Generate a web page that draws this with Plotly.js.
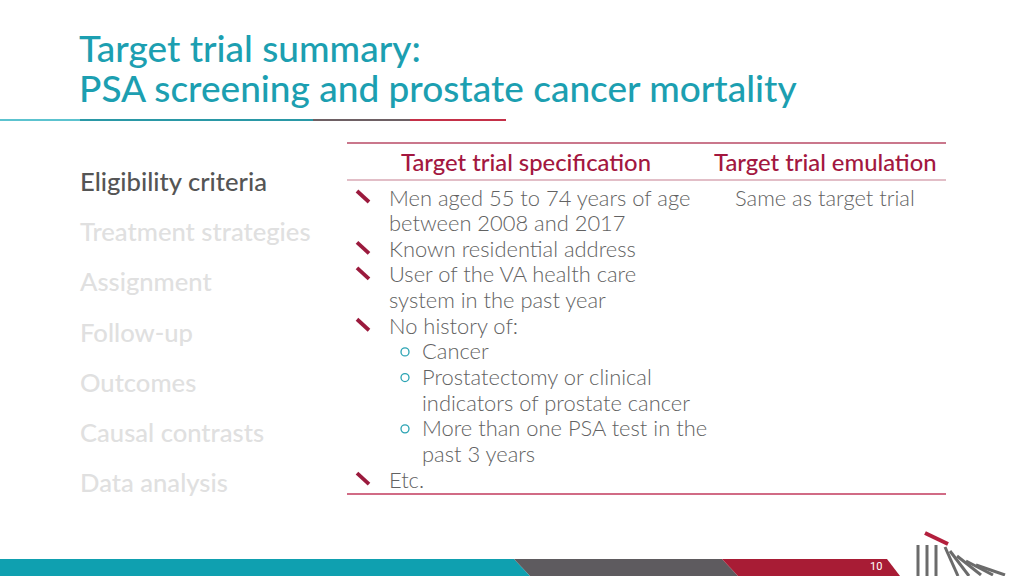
<!DOCTYPE html>
<html>
<head>
<meta charset="utf-8">
<script src="https://cdn.plot.ly/plotly-3.0.1.min.js"></script>
<style>html,body{margin:0;padding:0;background:#fff;}#chart{width:1024px;height:576px;}</style>
</head>
<body>
<div id="chart"></div>
<script>
// ---- content ----
const titleLines = ["Target trial summary:", "PSA screening and prostate cancer mortality"];
const menuItems = ["Eligibility criteria", "Treatment strategies", "Assignment", "Follow-up", "Outcomes", "Causal contrasts", "Data analysis"];
const activeMenu = 0;
const columnHeaders = ["Target trial specification", "Target trial emulation"];
const specText = [
  "Men aged 55 to 74 years of age",
  "between 2008 and 2017",
  "Known residential address",
  "User of the VA health care",
  "system in the past year",
  "No history of:",
  "Cancer",
  "Prostatectomy or clinical",
  "indicators of prostate cancer",
  "More than one PSA test in the",
  "past 3 years",
  "Etc."
];
const specKind = ["bullet","cont","bullet","bullet","cont","bullet","sub","sub","subcont","sub","subcont","bullet"];
const emulationText = ["Same as target trial"];
const pageNumber = "10";

// ---- style ----
const TEAL = "#1c9fb1", CRIMSON = "#a3173f", BODY = "#626262";
const FONT = "Lato, 'Open Sans', sans-serif";

const shapes = [], annotations = [];
function ann(text, x, y, font, opts) {
  annotations.push(Object.assign({
    text: text, x: x, y: y, xref: "x", yref: "y", showarrow: false,
    xanchor: "left", yanchor: "middle", font: Object.assign({family: FONT}, font)
  }, opts || {}));
}
function line(x0, y0, x1, y1, color, w) {
  shapes.push({type: "line", xref: "x", yref: "y", x0: x0, y0: y0, x1: x1, y1: y1,
    line: {color: color, width: w}});
}
function poly(pts, color) {
  shapes.push({type: "path", xref: "x", yref: "y",
    path: "M" + pts.map(p => p.join(",")).join("L") + "Z",
    fillcolor: color, line: {width: 0}});
}

// title
titleLines.forEach((t, i) => ann(t, 77, 47 + i * 40.5, {size: 37, color: TEAL, weight: 500}));
// title underline
line(0, 120, 80, 120, "#5cc3cf", 2);
line(80, 120, 313, 120, "#2a98a6", 2);
line(313, 120, 410, 120, "#6e6064", 2);
line(410, 120, 506, 120, "#c43048", 2);

// left menu
menuItems.forEach((m, i) => ann(m, 78, 181 + i * 50.2,
  {size: 25.6, color: i === activeMenu ? "#555555" : "#e0e0e0", weight: 500}));

// table rules
line(347, 143, 946, 143, "#b84a66", 1.3);
line(347, 180, 946, 180, "#d9a9b5", 1.3);
line(347, 494, 946, 494, "#c23a5c", 1.5);

// headers
const headerCenters = [526, 825];
columnHeaders.forEach((h, i) => ann(h, headerCenters[i], 161.5,
  {size: 23.8, color: CRIMSON, weight: 500}, {xanchor: "center"}));

// spec rows
const rowTop = 197, rowStep = 25.65;
specText.forEach((t, i) => {
  const y = rowTop + i * rowStep;
  const k = specKind[i];
  const x = (k === "sub" || k === "subcont") ? 420 : 387;
  ann(t, x, y, {size: 21.9, color: BODY, weight: 300});
  if (k === "bullet") line(357, y - 6, 369, y + 5, "#9b1a3d", 3.8);
  if (k === "sub") shapes.push({type: "circle", xref: "x", yref: "y", x0: 401, x1: 409, y0: y - 3, y1: y + 5,
    line: {color: "#2aa3b3", width: 1.3}, fillcolor: "rgba(0,0,0,0)"});
});
emulationText.forEach((t, i) => ann(t, 825, rowTop + i * rowStep,
  {size: 21.9, color: BODY, weight: 300}, {xanchor: "center"}));

// bottom band
poly([[0,559],[514,559],[530,576],[0,576]], "#0fa0b0");
poly([[514,559],[722,559],[738,576],[530,576]], "#5e5b5f");
poly([[722,559],[887,559],[900,576],[738,576]], "#a81c35");
ann(pageNumber, 876, 566, {family: "'Liberation Sans Narrow', Roboto, sans-serif", size: 11, color: "#ffffff"}, {xanchor: "center"});

// logo
[918, 927, 936].forEach(x => line(x, 545, x, 576, "#6b6b6b", 3));
line(925, 533, 948, 544, "#b3203d", 4);
const dominoes = [[945,547,958,576],[950,551,969,576],[957,556,981,575],[966,561,993,575],[976,565,1005,575]];
dominoes.forEach(d => line(d[0], d[1], d[2], d[3], "#6b6b6b", 3));

const layout = {
  width: 1024, height: 576,
  margin: {l: 0, r: 0, t: 0, b: 0},
  paper_bgcolor: "#ffffff", plot_bgcolor: "#ffffff",
  xaxis: {range: [0, 1024], visible: false, fixedrange: true},
  yaxis: {range: [576, 0], visible: false, fixedrange: true},
  showlegend: false,
  shapes: shapes, annotations: annotations
};
Plotly.newPlot("chart", [{x: [], y: [], type: "scatter", mode: "markers", hoverinfo: "skip"}], layout,
  {displayModeBar: false, staticPlot: true});
</script>
</body>
</html>
